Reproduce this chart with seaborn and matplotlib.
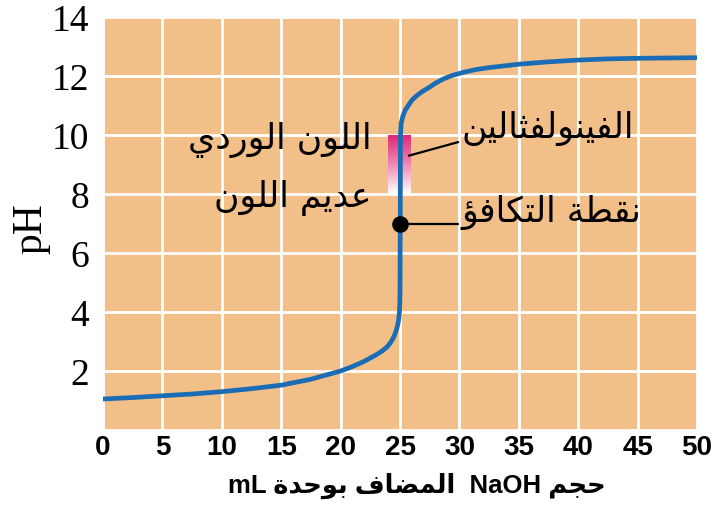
import numpy as np
import matplotlib
matplotlib.use("Agg")
import matplotlib.pyplot as plt
import seaborn as sns
from matplotlib.colors import LinearSegmentedColormap

# Titration of a strong acid with NaOH: volume added (mL) and measured pH
volume_ml = [0, 2.5, 5, 7.5, 10, 12.5, 15, 17.5, 20, 21, 22, 23, 23.5, 23.9,
             24.2, 24.45, 24.65, 24.8, 24.9, 24.96, 25.0, 25.02, 25.04, 25.1,
             25.25, 25.45, 25.7, 26.0, 26.4, 26.9, 27.4, 28.0, 28.65, 29.4,
             30.3, 31.4, 32.6, 35, 37.5, 40, 42.5, 45, 47.5, 50]
ph_values = [1.05, 1.10, 1.16, 1.22, 1.30, 1.40, 1.52, 1.72, 2.00, 2.15, 2.33,
             2.55, 2.68, 2.81, 2.96, 3.13, 3.33, 3.55, 3.77, 4.05, 4.6, 7.00,
             10.00, 10.40, 10.65, 10.85, 11.00, 11.18, 11.33, 11.48, 11.60,
             11.76, 11.90, 12.02, 12.12, 12.22, 12.29, 12.40, 12.48, 12.54,
             12.58, 12.60, 12.61, 12.62]

x_ticks = [0, 5, 10, 15, 20, 25, 30, 35, 40, 45, 50]
y_ticks = [2, 4, 6, 8, 10, 12, 14]

equivalence_volume = 25.02
equivalence_ph = 7.0
indicator_ph = [8.0, 10.0]          # phenolphthalein transition range
indicator_volume = [24.0, 25.9]

x_label = "حجم NaOH  المضاف بوحدة mL"
y_label = "pH"
label_indicator = "الفينولفثالين"
label_equivalence = "نقطة التكافؤ"
label_pink = "اللون الوردي"
label_colorless = "عديم اللون"

# --- minimal Arabic contextual shaping (matplotlib has no complex text layout)
_DUAL = {0x0626: 0xFE89, 0x0628: 0xFE8F, 0x062A: 0xFE95, 0x062B: 0xFE99,
         0x062C: 0xFE9D, 0x062D: 0xFEA1, 0x062E: 0xFEA5, 0x0633: 0xFEB1,
         0x0634: 0xFEB5, 0x0635: 0xFEB9, 0x0636: 0xFEBD, 0x0637: 0xFEC1,
         0x0638: 0xFEC5, 0x0639: 0xFEC9, 0x063A: 0xFECD, 0x0641: 0xFED1,
         0x0642: 0xFED5, 0x0643: 0xFED9, 0x0644: 0xFEDD, 0x0645: 0xFEE1,
         0x0646: 0xFEE5, 0x0647: 0xFEE9, 0x064A: 0xFEF1}
_RIGHT = {0x0622: 0xFE81, 0x0623: 0xFE83, 0x0624: 0xFE85, 0x0625: 0xFE87,
          0x0627: 0xFE8D, 0x0629: 0xFE93, 0x062F: 0xFEA9, 0x0630: 0xFEAB,
          0x0631: 0xFEAD, 0x0632: 0xFEAF, 0x0648: 0xFEED, 0x0649: 0xFEEF}


def _is_arabic(word):
    return any(0x0600 <= ord(c) <= 0x06FF for c in word)


def _shape_word(word):
    n = len(word)
    out = []
    for i, c in enumerate(word):
        cp = ord(c)
        if cp not in _DUAL and cp not in _RIGHT:
            out.append(c)
            continue
        joins_prev = i > 0 and ord(word[i - 1]) in _DUAL
        joins_next = (cp in _DUAL and i < n - 1
                      and (ord(word[i + 1]) in _DUAL or ord(word[i + 1]) in _RIGHT))
        base = _DUAL.get(cp, _RIGHT.get(cp))
        if joins_prev and joins_next:
            form = 3
        elif joins_prev:
            form = 1
        elif joins_next:
            form = 2
        else:
            form = 0
        out.append(chr(base + form))
    return "".join(reversed(out))


def rtl(text):
    tokens = text.split(" ")
    shaped = [_shape_word(t) if _is_arabic(t) else t for t in tokens]
    return " ".join(reversed(shaped))


# --- style
bg = "#F2BF88"
blue = "#1A6DB4"
sns.set_style("darkgrid", {"axes.facecolor": bg, "grid.color": "white",
                           "axes.edgecolor": bg, "text.color": "black",
                           "xtick.color": "black", "ytick.color": "black",
                           "axes.labelcolor": "black"})
plt.rcParams["font.family"] = ["Liberation Sans", "DejaVu Sans"]

fig = plt.figure(figsize=(7.11, 5.06), dpi=100)
ax = fig.add_axes([103 / 711, 1 - 431 / 506, 594 / 711, 413 / 506])

# indicator colour band: pink fading to colourless
pink_cmap = LinearSegmentedColormap.from_list("phenol", ["#FFFFFF", "#F08AB4", "#DE2878"])
ax.imshow(np.linspace(0, 1, 200).reshape(-1, 1), extent=[indicator_volume[0], indicator_volume[1],
          indicator_ph[0], indicator_ph[1]], origin="lower", cmap=pink_cmap,
          aspect="auto", zorder=2, interpolation="bilinear")

sns.lineplot(x=volume_ml, y=ph_values, ax=ax, color=blue, linewidth=3.4,
             sort=False, estimator=None, zorder=3)

# leader lines and equivalence point
ax.plot([25.75, 29.9], [9.3, 9.76], color="black", lw=1.6, zorder=4)
ax.plot([equivalence_volume, 29.9], [equivalence_ph, equivalence_ph], color="black", lw=1.6, zorder=4)
ax.scatter([equivalence_volume], [equivalence_ph], s=120, color="black", zorder=5)

arabic_font = ["DejaVu Sans"]
ax.text(30.2, 10.27, rtl(label_indicator), fontsize=25, family=arabic_font,
        ha="left", va="center", zorder=6)
ax.text(30.2, 7.42, rtl(label_equivalence), fontsize=25, family=arabic_font,
        ha="left", va="center", zorder=6)
ax.text(22.6, 9.86, rtl(label_pink), fontsize=25, family=arabic_font,
        ha="right", va="center", zorder=6)
ax.text(22.6, 7.9, rtl(label_colorless), fontsize=25, family=arabic_font,
        ha="right", va="center", zorder=6)

ax.set_xlim(0, 50)
ax.set_ylim(0, 14)
ax.set_xticks(x_ticks)
ax.set_yticks([0] + y_ticks)
ax.set_yticklabels([""] + [str(v) for v in y_ticks], family="Liberation Serif", fontsize=27)
ax.set_xticklabels([str(v) for v in x_ticks], fontsize=20, fontweight="bold")
ax.tick_params(axis="both", length=0, labelcolor="black")
ax.tick_params(axis="y", pad=10)
ax.tick_params(axis="x", pad=3)
ax.grid(True, color="white", linewidth=2.0)
for s in ax.spines.values():
    s.set_visible(False)

ax.set_xlabel(rtl(x_label), fontsize=18.5, fontweight="bold", color="black",
              family=["Liberation Sans", "DejaVu Sans"])
ax.xaxis.set_label_coords(0.528, -0.133)
ax.xaxis.label.set_va("center")
ax.set_ylabel(y_label, fontsize=30, family="Liberation Serif", color="black")
ax.yaxis.set_label_coords(-0.088, 0.49)

fig.savefig("out.png", dpi=100, facecolor="white")
